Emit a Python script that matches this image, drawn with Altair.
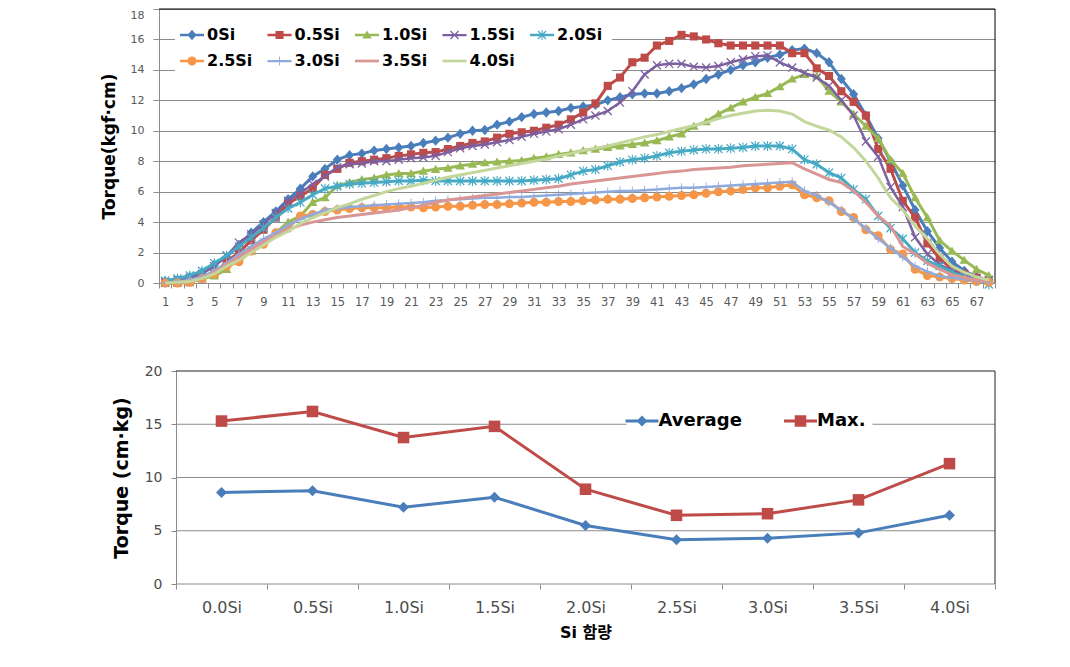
import altair as alt
import pandas as pd

# ---------------- top panel data ----------------
step = list(range(1, 69))
series_names = ["0Si", "0.5Si", "1.0Si", "1.5Si", "2.0Si", "2.5Si", "3.0Si", "3.5Si", "4.0Si"]

s_00 = [0.1, 0.2, 0.4, 0.7, 1.2, 1.7, 2.5, 3.3, 4.0, 4.7,
        5.5, 6.2, 7.0, 7.5, 8.1, 8.4, 8.5, 8.7, 8.8, 8.9,
        9.0, 9.2, 9.35, 9.55, 9.8, 10.0, 10.05, 10.4, 10.6, 10.9,
        11.1, 11.2, 11.3, 11.5, 11.6, 11.7, 12.0, 12.2, 12.4, 12.45,
        12.45, 12.6, 12.8, 13.05, 13.4, 13.7, 14.0, 14.3, 14.5, 14.8,
        15.0, 15.3, 15.4, 15.1, 14.5, 13.4, 12.4, 11.0, 9.5, 8.0,
        6.4, 4.8, 3.4, 2.3, 1.4, 0.8, 0.4, 0.2]
s_05 = [0.0, 0.0, 0.05, 0.3, 0.6, 1.4, 2.0, 2.8, 3.5, 4.3,
        5.2, 5.7, 6.2, 7.1, 7.5, 7.9, 8.0, 8.1, 8.2, 8.35,
        8.45, 8.55, 8.6, 8.8, 9.0, 9.2, 9.3, 9.55, 9.8, 9.9,
        10.0, 10.2, 10.4, 10.75, 11.2, 11.8, 12.95, 13.5, 14.5, 14.8,
        15.6, 15.9, 16.3, 16.2, 16.0, 15.75, 15.6, 15.6, 15.6, 15.6,
        15.6, 15.1, 15.1, 14.1, 13.6, 12.6, 11.9, 11.0, 8.8, 7.5,
        5.4, 4.3, 2.6, 1.6, 0.9, 0.6, 0.35, 0.2]
s_10 = [0.0, 0.0, 0.05, 0.3, 0.46, 0.9, 1.7, 2.1, 2.75, 3.3,
        4.0, 4.4, 5.3, 5.6, 6.4, 6.6, 6.8, 6.9, 7.1, 7.2,
        7.2, 7.35, 7.47, 7.55, 7.7, 7.8, 7.9, 7.95, 8.0, 8.05,
        8.2, 8.3, 8.45, 8.55, 8.7, 8.8, 8.9, 9.0, 9.1, 9.2,
        9.35, 9.6, 9.8, 10.3, 10.6, 11.1, 11.5, 11.9, 12.2, 12.45,
        12.9, 13.4, 13.7, 13.6, 12.6, 11.9, 11.1, 10.3, 9.5, 8.1,
        7.2, 5.6, 4.3, 2.8, 2.1, 1.5, 0.9, 0.5]
s_15 = [0.1, 0.2, 0.35, 0.6, 1.1, 1.8, 2.65, 3.2, 3.85, 4.6,
        5.4, 5.9, 6.5, 7.0, 7.6, 7.8, 7.85, 8.0, 8.0, 8.1,
        8.2, 8.25, 8.35, 8.6, 8.85, 9.0, 9.1, 9.25, 9.4, 9.6,
        9.8, 9.95, 10.1, 10.4, 10.75, 11.0, 11.3, 11.85, 12.6, 13.7,
        14.3, 14.4, 14.4, 14.2, 14.15, 14.25, 14.5, 14.7, 14.9, 14.95,
        14.5, 14.15, 13.8, 13.5, 12.95, 12.0, 11.0, 9.3, 8.3, 6.3,
        5.0, 3.0, 1.9, 1.2, 0.8, 0.5, 0.3, 0.2]
s_20 = [0.15, 0.3, 0.5, 0.8, 1.3, 1.8, 2.4, 3.0, 3.6, 4.3,
        4.9, 5.3, 5.8, 6.2, 6.35, 6.5, 6.55, 6.6, 6.65, 6.7,
        6.7, 6.75, 6.7, 6.7, 6.7, 6.7, 6.7, 6.7, 6.7, 6.7,
        6.75, 6.8, 6.85, 7.1, 7.35, 7.45, 7.7, 7.95, 8.1, 8.2,
        8.35, 8.55, 8.65, 8.74, 8.8, 8.8, 8.85, 8.9, 9.0, 9.0,
        9.0, 8.8, 8.1, 7.8, 7.25, 6.9, 6.15, 5.5, 4.4, 3.6,
        2.9, 2.0, 1.45, 1.1, 0.7, 0.4, 0.2, -0.1]
s_25 = [0.0, 0.0, 0.05, 0.3, 0.6, 1.1, 1.4, 2.1, 2.55, 3.3,
        3.6, 4.4, 4.5, 4.7, 4.8, 4.9, 4.95, 4.95, 4.95, 5.0,
        5.0, 4.95, 5.0, 5.05, 5.05, 5.1, 5.15, 5.15, 5.2, 5.25,
        5.3, 5.3, 5.35, 5.35, 5.4, 5.45, 5.5, 5.5, 5.55, 5.6,
        5.65, 5.7, 5.75, 5.8, 5.9, 6.0, 6.05, 6.15, 6.25, 6.25,
        6.35, 6.45, 5.8, 5.6, 5.4, 4.7, 4.3, 3.5, 3.1, 2.2,
        1.9, 0.9, 0.5, 0.4, 0.3, 0.2, 0.1, 0.05]
s_30 = [0.0, 0.1, 0.2, 0.4, 0.8, 1.3, 1.9, 2.4, 2.9, 3.3,
        3.8, 4.2, 4.5, 4.8, 4.9, 5.0, 5.05, 5.1, 5.15, 5.2,
        5.25, 5.3, 5.4, 5.45, 5.5, 5.55, 5.6, 5.6, 5.65, 5.65,
        5.7, 5.75, 5.8, 5.85, 5.9, 5.95, 6.0, 6.05, 6.05, 6.1,
        6.15, 6.2, 6.25, 6.25, 6.3, 6.35, 6.4, 6.45, 6.5, 6.55,
        6.6, 6.65, 6.05, 5.75, 5.3, 4.8, 4.2, 3.6, 2.9, 2.3,
        1.7, 1.1, 0.75, 0.45, 0.35, 0.25, 0.15, 0.05]
s_35 = [0.0, 0.05, 0.1, 0.3, 0.7, 1.2, 1.7, 2.2, 2.7, 3.1,
        3.5, 3.8, 4.0, 4.15, 4.3, 4.4, 4.5, 4.6, 4.7, 4.8,
        4.95, 5.1, 5.3, 5.45, 5.55, 5.65, 5.75, 5.85, 5.95, 6.05,
        6.15, 6.25, 6.35, 6.5, 6.6, 6.7, 6.8, 6.9, 7.0, 7.1,
        7.2, 7.3, 7.35, 7.45, 7.5, 7.55, 7.6, 7.7, 7.75, 7.8,
        7.85, 7.9, 7.5, 7.15, 6.8, 6.6, 6.05, 5.3, 4.4, 3.75,
        2.4, 1.9, 1.3, 0.9, 0.55, 0.35, 0.2, 0.1]
s_40 = [0.0, 0.05, 0.1, 0.3, 0.6, 1.1, 1.5, 2.0, 2.5, 3.0,
        3.4, 3.9, 4.3, 4.6, 4.95, 5.2, 5.5, 5.75, 6.0, 6.2,
        6.35, 6.55, 6.75, 6.95, 7.1, 7.25, 7.4, 7.55, 7.7, 7.85,
        8.0, 8.15, 8.35, 8.5, 8.7, 8.85, 9.0, 9.2, 9.4, 9.6,
        9.75, 9.95, 10.15, 10.35, 10.55, 10.8, 11.0, 11.15, 11.3, 11.35,
        11.3, 11.1, 10.6, 10.3, 10.05, 9.6, 8.9, 8.0, 6.9, 5.6,
        4.8, 3.75, 2.9, 1.9, 1.1, 0.7, 0.4, 0.2]

series_values = [s_00, s_05, s_10, s_15, s_20, s_25, s_30, s_35, s_40]

# ---------------- bottom panel data ----------------
si_labels = ["0.0Si", "0.5Si", "1.0Si", "1.5Si", "2.0Si", "2.5Si", "3.0Si", "3.5Si", "4.0Si"]
avg_torque = [8.6, 8.75, 7.2, 8.15, 5.5, 4.15, 4.3, 4.8, 6.45]
max_torque = [15.3, 16.2, 13.75, 14.8, 8.9, 6.45, 6.6, 7.9, 11.3]
stat_names = ["Average", "Max."]
bottom_ticks = [0, 5, 10, 15, 20]

# ---------------- styles ----------------
FONT = "DejaVu Sans"
GRID = "#8c8c8c"
top_colors = ["#4A7EBB", "#BE4B48", "#98B954", "#7D60A0", "#46AAC5",
              "#F79646", "#8FAADC", "#D99694", "#C3D69B"]
bot_colors = ["#4A7EBB", "#BE4B48"]

DIAMOND = "M0,-1.15L1,0L0,1.15L-1,0Z"
SQUARE = "M-0.9,-0.9L0.9,-0.9L0.9,0.9L-0.9,0.9Z"
TRIANGLE = "M0,-1L1.05,0.8L-1.05,0.8Z"
XMARK = "M-1,-0.8L-0.8,-1L1,0.8L0.8,1Z M0.8,-1L1,-0.8L-0.8,1L-1,0.8Z"
STAR = XMARK + " M-0.12,-1.1L0.12,-1.1L0.12,1.1L-0.12,1.1Z"
CIRCLE = "M1,0A1,1,0,1,1,-1,0A1,1,0,1,1,1,0Z"
PLUS = "M-1,-0.1L1,-0.1L1,0.1L-1,0.1Z M-0.1,-1L0.1,-1L0.1,1L-0.1,1Z"
top_markers = [DIAMOND, SQUARE, TRIANGLE, XMARK, STAR, CIRCLE, PLUS, "", ""]
top_widths = [3, 3, 3, 2.5, 3, 3, 2.5, 3, 3]

B_DIAMOND = "M0,-1L1,0L0,1L-1,0Z"
B_SQUARE = "M-1.05,-1.05L1.05,-1.05L1.05,1.05L-1.05,1.05Z"
bot_markers = [B_DIAMOND, B_SQUARE]


def legend_path(marker, half, t):
    line = f"M{-half},{-t}L{half},{-t}L{half},{t}L{-half},{t}Z"
    return line + (" " + marker if marker else "")


top_leg_paths = [legend_path(m, 2.67, 0.3 if w >= 3 else 0.25) for m, w in zip(top_markers, top_widths)]
bot_leg_paths = [legend_path(m, 3.0, 0.27) for m in bot_markers]

# ---------------- top chart ----------------
W1, H1 = 836, 274
top_df = pd.DataFrame({
    "step": step * len(series_names),
    "torque": [v for vals in series_values for v in vals],
    "series": [n for n in series_names for _ in step],
})

x_top = alt.X(
    "step:O",
    scale=alt.Scale(type="band", domain=step, paddingInner=0, paddingOuter=0),
    bandPosition=0.5,
    axis=alt.Axis(title=None, labelExpr="datum.value % 2 == 1 ? datum.label : ''",
                  labelAngle=0, labelOverlap=False, tickBand="extent", tickSize=5,
                  tickColor=GRID, domainColor=GRID, labelFont=FONT, labelFontSize=11.5,
                  labelColor="#595959", labelPadding=8, grid=False),
)
y_top = alt.Y(
    "torque:Q",
    scale=alt.Scale(domain=[0, 18], nice=False),
    axis=alt.Axis(values=list(range(0, 19, 2)), title="Torque(kgf·cm)", titleFont=FONT,
                  titleFontWeight="bold", titleFontSize=17, titleColor="#000",
                  titlePadding=12, labelFont=FONT, labelFontSize=11, labelColor="#595959",
                  labelPadding=9, tickSize=6, tickColor=GRID, domainColor=GRID,
                  gridColor=GRID, grid=True,
                  labelBaseline={"condition": {"test": "datum.value == 18", "value": "top"},
                                 "value": "middle"}),
)

top_layers = []
for name, color, marker, w in zip(series_names, top_colors, top_markers, top_widths):
    base = alt.Chart(top_df).transform_filter(alt.datum.series == name)
    top_layers.append(base.mark_line(color=color, strokeWidth=w).encode(x=x_top, y=y_top))
    if marker:
        top_layers.append(base.mark_point(shape=marker, filled=True, size=81, color=color,
                                          opacity=1).encode(x=x_top, y=y_top))

frame_df = pd.DataFrame({"k": [0]})
top_border = alt.Chart(frame_df).mark_rule(color="#000", strokeWidth=1).encode(
    x=alt.value(0), x2=alt.value(W1), y=alt.value(0))
top_right = alt.Chart(frame_df).mark_rule(color="#000", strokeWidth=1).encode(
    x=alt.value(W1), y=alt.value(0), y2=alt.value(H1))

top_leg = alt.Legend(title=None, orient="none", legendX=16, legendY=9, direction="horizontal",
                     columns=5, symbolSize=81, symbolStrokeWidth=0, symbolOpacity=1,
                     labelFont=FONT, labelFontWeight="bold", labelFontSize=16, labelColor="#000",
                     labelOffset=7, columnPadding=13.5, rowPadding=10, padding=9,
                     fillColor="white", gridAlign="all", labelLimit=0)
top_legend_layer = alt.Chart(pd.DataFrame({"series": series_names})).transform_filter("false").mark_point(
    filled=True, opacity=1, size=81).encode(
    color=alt.Color("series:N", scale=alt.Scale(domain=series_names, range=top_colors), legend=top_leg),
    shape=alt.Shape("series:N", scale=alt.Scale(domain=series_names, range=top_leg_paths), legend=top_leg),
)

top = alt.layer(*top_layers, top_border, top_right, top_legend_layer).properties(width=W1, height=H1)

# ---------------- bottom chart ----------------
# the bottom plot shares the top panel's left origin; its frame starts SHIFT px further right
W2, H2 = 836, 213
SHIFT = 17
STEP2 = (W2 - SHIFT) / len(si_labels)
outer_pad = (W2 / STEP2 - len(si_labels)) / 2

bot_df = pd.DataFrame({
    "si": si_labels * 2,
    "torque": avg_torque + max_torque,
    "stat": [stat_names[0]] * len(si_labels) + [stat_names[1]] * len(si_labels),
})

x_bot = alt.X(
    "si:O",
    scale=alt.Scale(type="band", domain=si_labels, paddingInner=0, paddingOuter=outer_pad, align=1),
    bandPosition=0.5,
    axis=alt.Axis(title="Si 함량", titleFont="DejaVu Sans, Noto Sans CJK KR", titleFontWeight="bold",
                  titleFontSize=16, titleColor="#000", titlePadding=9, titleX=SHIFT + (W2 - SHIFT) / 2,
                  labelAngle=0, labelFont=FONT, labelFontSize=16, labelColor="#4d4d4d", labelPadding=10,
                  tickBand="extent", tickSize=5, tickColor=GRID, domain=False, grid=False),
)
y_bot = alt.Y(
    "torque:Q",
    scale=alt.Scale(domain=[0, 20], nice=False),
    axis=alt.Axis(values=bottom_ticks, title="Torque (cm·kg)", titleFont=FONT, offset=-SHIFT,
                  titleFontWeight="bold", titleFontSize=19, titleColor="#000", titlePadding=12.5,
                  labelFont=FONT, labelFontSize=14, labelColor="#4d4d4d", labelPadding=9,
                  tickSize=5, tickColor=GRID, domainColor=GRID, grid=False),
)

grid_df = pd.DataFrame({"torque": bottom_ticks[:-1]})
bot_grid = alt.Chart(grid_df).mark_rule(color=GRID, strokeWidth=1).encode(
    x=alt.value(SHIFT), x2=alt.value(W2), y=y_bot)

bot_layers = []
for name, color, marker in zip(stat_names, bot_colors, bot_markers):
    base = alt.Chart(bot_df).transform_filter(alt.datum.stat == name)
    bot_layers.append(base.mark_line(color=color, strokeWidth=3).encode(x=x_bot, y=y_bot))
    bot_layers.append(base.mark_point(shape=marker, filled=True, size=121, color=color,
                                      opacity=1).encode(x=x_bot, y=y_bot))

bot_border = alt.Chart(frame_df).mark_rule(color="#222", strokeWidth=1).encode(
    x=alt.value(SHIFT), x2=alt.value(W2), y=alt.value(0))
bot_right = alt.Chart(frame_df).mark_rule(color="#222", strokeWidth=1).encode(
    x=alt.value(W2), y=alt.value(0), y2=alt.value(H2))

bot_leg = alt.Legend(title=None, orient="none", legendX=467.5, legendY=34.5, direction="horizontal",
                     columns=2, symbolSize=121, symbolStrokeWidth=0, symbolOpacity=1,
                     labelFont=FONT, labelFontWeight="bold", labelFontSize=18, labelColor="#000",
                     labelOffset=7.5, columnPadding=41.5, padding=6.5, fillColor="white",
                     labelLimit=0)
bot_legend_layer = alt.Chart(pd.DataFrame({"stat": stat_names})).transform_filter("false").mark_point(
    filled=True, opacity=1, size=121).encode(
    color=alt.Color("stat:N", scale=alt.Scale(domain=stat_names, range=bot_colors), legend=bot_leg),
    shape=alt.Shape("stat:N", scale=alt.Scale(domain=stat_names, range=bot_leg_paths), legend=bot_leg),
)

bottom = alt.layer(bot_grid, *bot_layers, bot_border, bot_right, bot_legend_layer).properties(
    width=W2, height=H2)

chart = alt.concat(top, bottom, columns=1, spacing=55).resolve_scale(
    color="independent", shape="independent"
).properties(
    padding={"left": 91, "top": 0, "right": 5, "bottom": 5},
    background="white",
).configure_view(stroke="transparent")

chart.save("out.html", embed_options={"renderer": "svg", "actions": False})
